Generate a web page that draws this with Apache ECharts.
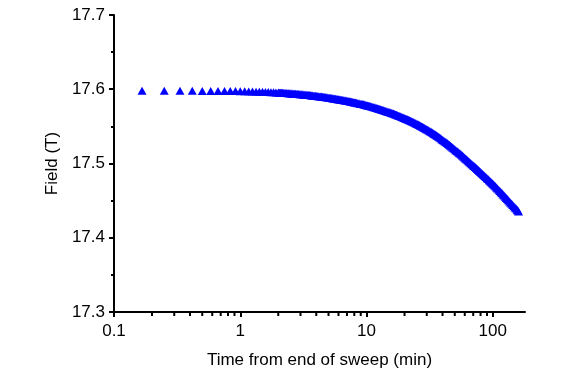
<!DOCTYPE html>
<html><head><meta charset="utf-8">
<script src="https://cdn.jsdelivr.net/npm/echarts@6/dist/echarts.min.js"></script>
<style>html,body{margin:0;padding:0;background:#fff}#c{width:587px;height:380px}</style>
</head><body><div id="c"></div>
<script>
const timeMin = [
0.1667,0.25,0.3333,0.4167,0.5,0.5833,0.6667,0.75,0.8333,0.9167,1,1.0833,1.1667,1.25,1.3333,1.4167,1.5,1.5833,1.6667,1.75,1.8333,1.9167,
2,2.04,2.08,2.12,2.16,2.2,2.25,2.3,2.34,2.39,2.43,2.48,2.53,2.58,2.63,2.68,2.74,2.8,2.85,2.9,2.96,
3.02,3.08,3.14,3.2,3.26,3.33,3.4,3.46,3.53,3.6,3.67,3.75,3.82,3.9,3.97,
4.05,4.12,4.2,4.3,4.4,4.47,4.55,4.65,4.75,4.85,4.95,
5.05,5.15,5.25,5.35,5.45,5.55,5.67,5.8,5.9,
6,6.12,6.25,6.37,6.5,6.62,6.75,6.87,
7,7.15,7.3,7.45,7.6,7.75,7.9,
8.05,8.2,8.37,8.55,8.72,8.9,9.07,9.25,9.42,9.6,9.8,
10,10.2,10.4,10.6,10.8,11.02,11.25,11.47,11.7,11.95,
12.2,12.45,12.7,12.95,13.2,13.45,13.7,13.97,14.25,14.52,14.8,
15.1,15.4,15.7,16,16.35,16.7,17,17.3,17.65,18,18.35,18.7,19.1,19.5,19.9,
20.3,20.7,21.1,21.5,21.9,22.35,22.8,23.25,23.7,24.2,24.7,
25.2,25.7,26.2,26.7,27.25,27.8,28.35,28.9,29.45,
30,30.6,31.2,31.85,32.5,33.15,33.8,34.45,
35.1,35.8,36.5,37.25,38,38.75,39.5,
40.25,41,41.85,42.7,43.55,44.4,45.3,46.2,47.1,48,49,
50,51,52,53,54,55.1,56.2,57.35,58.5,59.65,
60.8,62,63.2,64.45,65.7,67.05,68.4,69.75,
71.1,72.55,74,75.45,76.9,78.45,
80,81.6,83.2,84.85,86.5,88.25,
90,91.8,93.6,95.45,97.3,99.15,
101,103,105,107,109,111.5,114,116.25,118.5,
120.75,123,125.5,128,130.5,133,135.75,138.5,
141.25,144,147,150,153,156,158,160
];
const fieldT = [
17.5980,17.5980,17.5979,17.5979,17.5978,17.5978,17.5977,17.5976,17.5976,17.5975,17.5974,17.5973,17.5971,17.5970,17.5968,17.5966,17.5965,17.5963,17.5962,17.5960,17.5958,17.5957,
17.5955,17.5954,17.5953,17.5952,17.5952,17.5951,17.5950,17.5949,17.5948,17.5947,17.5946,17.5945,17.5943,17.5942,17.5941,17.5940,17.5939,17.5937,17.5936,17.5935,17.5934,
17.5932,17.5931,17.5930,17.5928,17.5927,17.5925,17.5924,17.5922,17.5921,17.5919,17.5917,17.5916,17.5914,17.5912,17.5911,
17.5909,17.5907,17.5905,17.5903,17.5901,17.5899,17.5897,17.5895,17.5893,17.5891,17.5888,
17.5886,17.5884,17.5882,17.5879,17.5877,17.5875,17.5872,17.5869,17.5867,
17.5865,17.5863,17.5860,17.5858,17.5855,17.5852,17.5849,17.5847,
17.5844,17.5841,17.5838,17.5835,17.5832,17.5829,17.5826,
17.5823,17.5820,17.5817,17.5813,17.5810,17.5806,17.5803,17.5800,17.5797,17.5793,17.5789,
17.5785,17.5781,17.5777,17.5774,17.5770,17.5766,17.5761,17.5757,17.5753,17.5748,
17.5743,17.5739,17.5734,17.5730,17.5725,17.5721,17.5716,17.5712,17.5707,17.5702,17.5697,
17.5692,17.5687,17.5682,17.5677,17.5672,17.5666,17.5661,17.5656,17.5650,17.5644,17.5639,17.5633,17.5627,17.5620,17.5614,
17.5607,17.5601,17.5595,17.5589,17.5583,17.5576,17.5569,17.5562,17.5555,17.5548,17.5540,
17.5533,17.5525,17.5518,17.5510,17.5502,17.5494,17.5486,17.5477,17.5469,
17.5461,17.5453,17.5444,17.5435,17.5426,17.5417,17.5407,17.5398,
17.5389,17.5379,17.5369,17.5359,17.5349,17.5339,17.5328,
17.5318,17.5308,17.5297,17.5286,17.5275,17.5264,17.5252,17.5240,17.5229,17.5217,17.5204,
17.5191,17.5180,17.5168,17.5157,17.5145,17.5133,17.5120,17.5107,17.5093,17.5081,
17.5068,17.5056,17.5044,17.5031,17.5018,17.5005,17.4991,17.4978,
17.4965,17.4952,17.4939,17.4926,17.4913,17.4899,
17.4885,17.4872,17.4859,17.4846,17.4832,17.4818,
17.4803,17.4790,17.4776,17.4762,17.4748,17.4734,
17.4720,17.4706,17.4692,17.4678,17.4664,17.4646,17.4629,17.4614,17.4598,
17.4583,17.4568,17.4553,17.4537,17.4522,17.4506,17.4489,17.4472,
17.4457,17.4441,17.4425,17.4409,17.4393,17.4377,17.4366,17.4355
];
const xMajorTicks = [0.1, 1, 10, 100];
const xTickLabels = ['0.1', '1', '10', '100'];
const xMinorTicks = [0.2,0.3,0.4,0.5,0.6,0.7,0.8,0.9,2,3,4,5,6,7,8,9,20,30,40,50,60,70,80,90];
const yTickLabels = ['17.3', '17.4', '17.5', '17.6', '17.7'];
const Y_MIN = 17.3, Y_MAX = 17.7;

const FONT = '"Liberation Sans", Arial, sans-serif';
const chart = echarts.init(document.getElementById('c'), null, {renderer: 'canvas'});
const pts = timeMin.map((t, i) => [t, fieldT[i]]);

chart.setOption({
  animation: false,
  backgroundColor: '#fff',
  grid: {left: 114, right: 62, top: 15, bottom: 68},
  xAxis: {
    type: 'log', logBase: 10, min: 0.1, max: 180,
    name: 'Time from end of sweep (min)', nameLocation: 'middle', nameGap: 40,
    nameTextStyle: {fontFamily: FONT, fontSize: 17, color: '#000'},
    axisLine: {lineStyle: {color: '#000', width: 2}},
    axisTick: {show: true, customValues: xMajorTicks, length: 5, lineStyle: {color: '#000', width: 2}},
    axisLabel: {customValues: xMajorTicks, margin: 11, fontFamily: FONT, fontSize: 17, color: '#000',
      formatter: v => { let i = xMajorTicks.findIndex(m => Math.abs(m - v) / m < 1e-6); return i >= 0 ? xTickLabels[i] : ''; }},
    splitLine: {show: false}, minorTick: {show: false}
  },
  yAxis: {
    type: 'value', min: Y_MIN, max: Y_MAX, interval: 0.1,
    name: 'Field (T)', nameLocation: 'middle', nameGap: 52, nameRotate: 90,
    nameTextStyle: {fontFamily: FONT, fontSize: 17, color: '#000'},
    axisLine: {show: true, lineStyle: {color: '#000', width: 2}},
    axisTick: {show: true, length: 5, lineStyle: {color: '#000', width: 2}},
    minorTick: {show: true, splitNumber: 2, length: 3, lineStyle: {color: '#000', width: 2}},
    axisLabel: {margin: 9, fontFamily: FONT, fontSize: 17, color: '#000',
      formatter: v => { const i = Math.round((v - Y_MIN) * 10); return yTickLabels[i] !== undefined ? yTickLabels[i] : ''; }},
    splitLine: {show: false}
  },
  series: [{
    type: 'scatter', data: pts,
    symbol: 'triangle', symbolSize: [9, 8],
    itemStyle: {color: '#0000ff', opacity: 1},
    silent: true
  }]
});

// minor ticks on the log x axis, positioned through the chart's own scales
const minorEls = xMinorTicks.map(v => {
  const p = chart.convertToPixel({xAxisIndex: 0, yAxisIndex: 0}, [v, Y_MIN]);
  return {type: 'line', silent: true, z: 10,
    shape: {x1: p[0], y1: p[1], x2: p[0], y2: p[1] + 4},
    style: {stroke: '#000', lineWidth: 2}};
});
chart.setOption({graphic: {elements: minorEls}});
</script></body></html>
